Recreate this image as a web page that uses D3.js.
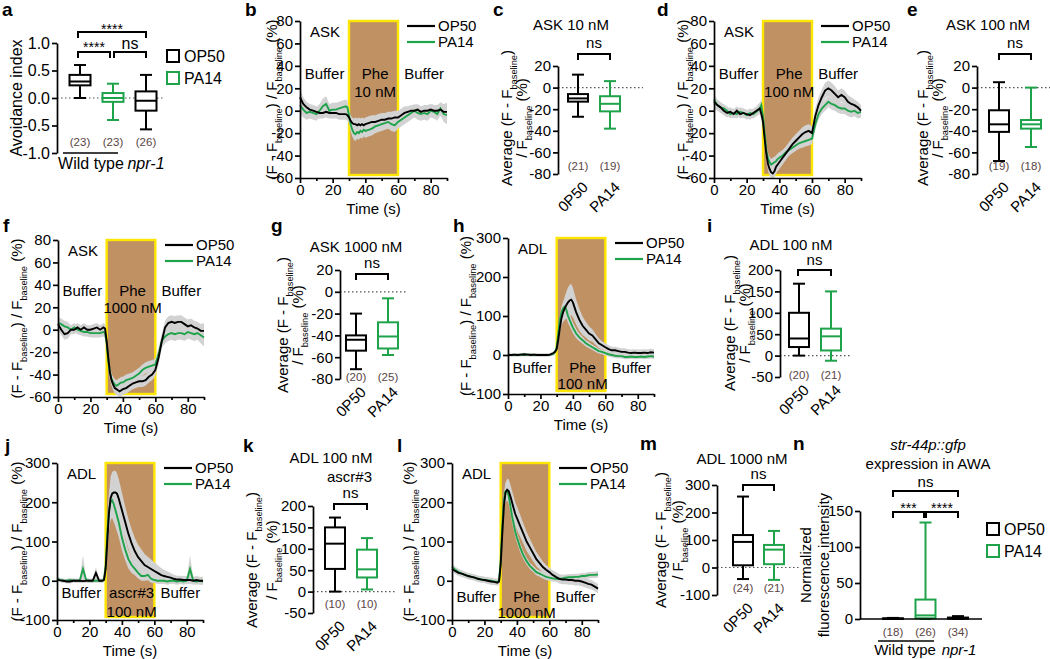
<!DOCTYPE html>
<html><head><meta charset="utf-8">
<script src="https://cdn.jsdelivr.net/npm/d3@7"></script>
<style>
body{margin:0;background:#fff}
svg{font-family:Arial,"Liberation Sans",sans-serif}
</style></head><body>
<svg id="fig" width="1050" height="659"></svg>
<script>
// ---------------- DATA ----------------
const T = [0,2,4,6,8,10,12,14,16,18,20,22,24,26,28,
           29,30,31,32,33,34,35,36,37,38,39,40,
           42,44,46,48,50,52,54,56,58,60,62,64,66,68,70,72,74,76,78,80,82,84,86,88,90];

// b: ASK 10 nM
const bOP50 = [12,6,3,1,0,-1,-2,-2,-1,-2,-2,-2,-3,-3,-3,
  -4,-6,-9,-11,-12,-12,-13,-12,-13,-12,-13,-12,
  -11,-10,-10,-9,-8,-8,-7,-7,-6,-6,-4,-2,-1,0,0,1,-1,0,0,1,0,0,1,-1,-1];
const bPA14 = [5,1,-2,-1,-2,-3,0,4,6,0,1,1,2,3,4,
  3,-4,-12,-17,-20,-21,-19,-20,-18,-19,-17,-18,
  -17,-16,-14,-13,-12,-11,-10,-12,-13,-10,-8,-6,-4,-2,0,-2,-3,-2,-3,0,-1,-3,2,-3,-4];
const bOP50sem = [7,6,5,5,5,5,5,5,5,5,5,5,5,5,5,
  5,5,5,5,5,6,6,6,6,6,6,6,
  6,6,6,6,6,6,6,6,6,6,6,6,5,5,5,5,5,5,5,5,5,5,6,7,8];
const bPA14sem = [8,7,6,6,6,6,6,7,7,6,6,6,6,6,6,
  6,6,6,6,6,6,6,6,6,6,6,6,
  6,6,6,6,6,6,6,6,6,6,6,6,6,6,6,6,6,6,6,6,6,6,6,7,8];

// d: ASK 100 nM
const dOP50 = [8,5,3,0,-2,-1,-3,0,-3,-2,-3,-4,-2,0,2,
  -3,-10,-25,-38,-47,-52,-55,-56,-54,-50,-48,-46,
  -42,-38,-34,-30,-27,-24,-21,-19,-18,-20,-5,5,12,18,20,18,15,12,14,12,8,6,5,3,0];
const dPA14 = [10,5,3,2,0,-3,-2,-3,-1,-2,-4,-2,-3,-1,2,
  5,-5,-20,-35,-42,-46,-48,-47,-46,-45,-43,-42,
  -40,-37,-35,-33,-31,-29,-28,-27,-26,-25,-12,-3,2,5,8,6,5,3,2,2,0,-1,0,-2,-1];
const dOP50sem = [6,5,5,4,4,4,4,4,4,4,4,4,4,4,5,
  5,5,6,6,6,6,6,6,6,6,6,6,
  6,6,6,6,6,6,6,6,6,6,7,7,7,7,7,7,7,6,6,6,6,6,5,5,5];
const dPA14sem = [5,4,4,4,4,4,4,4,4,4,4,4,4,4,5,
  5,5,5,5,5,5,5,5,5,5,5,5,
  5,5,5,5,5,5,5,5,5,5,5,5,5,5,5,5,5,5,5,5,5,5,5,5,5];

// f: ASK 1000 nM
const fOP50 = [5,0,-4,-3,0,0,2,0,2,0,0,1,2,0,2,
  1,-10,-25,-38,-45,-49,-52,-53,-54,-55,-54,-53,
  -52,-50,-48,-47,-46,-46,-45,-42,-40,-36,-25,-10,2,6,7,6,7,7,5,3,4,2,1,-1,-1];
const fPA14 = [6,5,3,2,0,2,0,-1,-2,-2,-3,-3,-3,-3,-2,
  -3,-12,-28,-38,-44,-47,-49,-50,-49,-48,-47,-47,
  -45,-44,-43,-41,-39,-36,-34,-33,-32,-31,-22,-10,-6,-4,-3,-4,-3,-3,-4,-2,-3,-4,-3,-5,-7];
const fOP50sem = [5,5,5,5,4,4,4,4,4,4,4,4,4,4,4,
  4,5,5,5,5,5,5,5,5,5,5,5,
  5,5,5,5,5,5,5,5,5,5,6,6,6,6,6,6,6,6,6,6,6,6,6,6,7];
const fPA14sem = [5,5,5,5,4,4,4,4,4,4,4,4,4,4,4,
  4,5,5,5,5,5,5,5,5,5,5,5,
  5,5,5,5,5,5,5,5,5,5,6,6,6,6,6,6,6,6,6,6,6,6,6,7,8];

// h: ADL 100 nM
const hOP50 = [0,0,1,0,1,2,1,0,1,0,0,0,0,1,5,
  8,15,40,70,95,110,120,128,135,140,142,135,
  110,90,75,65,55,50,40,30,25,20,15,12,12,10,8,8,6,5,6,5,5,6,5,7,6];
const hPA14 = [0,0,0,0,1,0,1,1,0,0,0,0,0,1,3,
  8,20,55,90,110,120,124,115,100,90,80,70,
  55,45,38,30,25,20,15,10,8,5,2,0,-2,-3,-3,-5,-5,-4,-5,-5,-4,-5,-4,-3,-4];
const hOP50sem = [4,4,4,4,4,4,4,4,4,4,4,4,4,4,4,
  4,5,8,12,18,25,30,35,38,40,40,38,
  32,28,24,20,18,16,14,12,10,10,10,9,9,9,9,9,9,9,9,9,9,9,9,9,9];
const hPA14sem = [4,4,4,4,4,4,4,4,4,4,4,4,4,4,4,
  4,5,8,12,15,18,20,20,18,16,15,14,
  12,10,9,8,8,7,7,6,6,6,6,6,6,6,6,6,6,6,6,6,6,6,6,6,6];

// j: ADL ascr#3 100 nM
const jOP50 = [3,1,0,-2,-2,0,0,0,-1,0,0,0,20,0,0,
  2,30,100,170,210,222,225,225,222,210,195,180,
  150,120,95,75,60,50,40,35,30,25,20,15,12,10,8,5,3,3,2,2,2,0,2,0,0];
const jPA14 = [5,2,0,0,2,1,0,0,30,2,0,0,0,0,0,
  5,40,120,180,200,205,195,180,165,150,130,110,
  80,55,40,30,20,12,12,15,5,2,0,0,0,-2,0,0,-2,0,-2,0,30,0,-2,0,-2];
const jOP50sem = [5,5,5,5,5,5,5,5,5,5,5,5,15,5,5,
  5,10,30,45,55,55,55,55,52,50,48,45,
  40,38,36,34,32,30,28,26,24,22,20,18,16,14,12,10,10,10,10,10,10,10,10,10,10];
const jPA14sem = [6,5,5,5,5,5,5,5,35,5,5,5,5,5,5,
  5,10,30,40,45,45,45,42,40,38,35,32,
  28,24,20,16,14,12,12,14,10,8,8,8,8,8,8,8,8,8,8,8,35,8,8,8,8];

// l: ADL 1000 nM
const lOP50 = [30,25,20,18,15,12,10,8,5,3,2,0,-2,-3,-5,
  -2,40,120,190,225,232,228,215,200,185,170,160,
  140,120,100,85,70,55,45,35,28,22,15,10,5,3,3,2,2,0,0,-2,-5,-8,-10,-15,-20];
const lPA14 = [35,28,22,18,15,12,10,8,5,4,2,1,0,-2,-3,
  0,50,140,205,228,230,215,190,165,145,125,110,
  85,65,50,38,30,22,18,14,10,8,6,5,5,6,8,9,9,10,10,12,12,14,15,15,16];
const lOP50sem = [8,8,8,8,8,8,8,8,8,8,8,8,8,8,8,
  8,10,15,20,25,28,30,30,30,30,30,30,
  28,26,24,22,20,18,16,14,12,12,12,12,12,12,12,12,12,12,12,12,12,12,12,12,12];
const lPA14sem = [8,8,8,8,8,8,8,8,8,8,8,8,8,8,8,
  8,10,15,20,22,22,20,18,16,15,14,13,
  12,10,9,8,8,8,8,8,8,8,8,8,8,8,8,8,8,8,8,8,8,8,8,8,8];

// box plots: [min, q1, median, q3, max]
const aCats = ["WT OP50","WT PA14","npr-1 OP50"];
const aBoxes = [[0.0,0.23,0.30,0.42,0.60],[-0.40,-0.07,0.0,0.09,0.26],[-0.57,-0.23,-0.05,0.12,0.42]];
const aN = ["(23)","(23)","(26)"];
const foodCats = ["0P50","PA14"];
const cBoxes = [[-27,-13,-10,-6,12],[-38,-22,-15,-8,6]];   const cN = ["(21)","(19)"];
const eBoxes = [[-68,-41,-34,-21,5],[-55,-38,-34,-30,0]];  const eN = ["(19)","(18)"];
const gBoxes = [[-71,-54,-44,-40,-20],[-58,-52,-41,-28,-6]]; const gN = ["(20)","(25)"];
const iBoxes = [[0,20,40,100,168],[-12,12,45,63,150]];     const iN = ["(20)","(21)"];
const kBoxes = [[0,53,112,150,173],[5,33,52,98,125]];      const kN = ["(10)","(10)"];
const mBoxes = [[-42,8,93,118,258],[-45,12,65,82,133]];    const mN = ["(24)","(21)"];
const nCats = ["WT OP50","WT PA14","npr-1 OP50"];
const nBoxes = [[0,0.2,0.5,0.9,1.5],[0,1,5,27,134],[0,0.5,1,2,4]]; const nN = ["(18)","(26)","(34)"];

const aTicks = [-1,-0.5,0,0.5,1];
const ask80Ticks = [-60,-40,-20,0,20,40,60,80];
const adlTicks = [-100,0,100,200,300];
const boxAskTicks = [-80,-60,-40,-20,0,20];
const box200Ticks = [-50,0,50,100,150,200];
const box300Ticks = [-100,0,100,200,300];
const nTicks = [0,50,100,150];
const timeTicks = [0,20,40,60,80];
const timeMinor = [10,30,50,70,90];

// ---------------- DRAWING ----------------
const svg = d3.select("#fig");
const GREEN = "#1fa34a", TAN = "#bf9163", YEL = "#ffe600", BAND = "#d2d2d2", NCOL = "#5a4444";
svg.append("rect").attr("width",1050).attr("height",659).attr("fill","#fff");

function txt(g,x,y,s,o={}){
  const t=g.append("text").attr("x",x).attr("y",y).text(s)
    .attr("font-size",o.size||15).attr("text-anchor",o.anchor||"start").attr("fill",o.fill||"#000");
  if(o.italic) t.attr("font-style","italic");
  if(o.bold) t.attr("font-weight","bold");
  if(o.rot) t.attr("transform",`rotate(${o.rot},${x},${y})`);
  return t;
}
function letter(s,x,y){ txt(svg,x,y,s,{size:19,bold:true}); }
function richV(g,x,y,parts,size){
  const t=g.append("text").attr("x",x).attr("y",y).attr("font-size",size)
    .attr("text-anchor","middle").attr("transform",`rotate(-90,${x},${y})`);
  let prev=false;
  parts.forEach(([s,sub])=>{
    const ts=t.append("tspan").text(s);
    if(sub){ ts.attr("font-size",size*0.62); if(!prev) ts.attr("dy",size*0.3); }
    else if(prev) ts.attr("dy",-size*0.3);
    prev=sub;
  });
}
function styleAxis(a,size){
  a.select(".domain").attr("stroke","#000").attr("stroke-width",1.7);
  a.selectAll(".tick line").attr("stroke","#000").attr("stroke-width",1.7);
  a.selectAll("text").attr("font-size",size||15).attr("fill","#000").attr("font-family",'Arial,"Liberation Sans",sans-serif');
}
function bracket(g,x1,x2,y,leg,label,ly,size){
  g.append("path").attr("d",`M${x1},${y+leg}V${y}H${x2}V${y+leg}`).attr("fill","none").attr("stroke","#000").attr("stroke-width",2);
  txt(g,(x1+x2)/2,ly,label,{anchor:"middle",size:size||15});
}
function drawBox(g,cx,b,color,y,w){
  const cap=6;
  g.append("line").attr("x1",cx).attr("x2",cx).attr("y1",y(b[0])).attr("y2",y(b[4])).attr("stroke",color).attr("stroke-width",2);
  [b[0],b[4]].forEach(v=>g.append("line").attr("x1",cx-cap).attr("x2",cx+cap).attr("y1",y(v)).attr("y2",y(v)).attr("stroke",color).attr("stroke-width",2));
  g.append("rect").attr("x",cx-w/2).attr("y",y(b[3])).attr("width",w).attr("height",Math.max(0.5,y(b[1])-y(b[3])))
    .attr("fill","#fff").attr("stroke",color).attr("stroke-width",2);
  g.append("line").attr("x1",cx-w/2).attr("x2",cx+w/2).attr("y1",y(b[2])).attr("y2",y(b[2])).attr("stroke",color).attr("stroke-width",2);
}
const intFmt = d=>String(d);

function tracePanel(o){
  const g=svg.append("g");
  const x=d3.scaleLinear().domain([0,90]).range([o.x0,o.x1]);
  const y=d3.scaleLinear().domain([o.ymin,o.ymax]).range([o.yb,o.yt]);
  g.append("rect").attr("x",x(30)).attr("y",y(o.ymax)).attr("width",x(60)-x(30)).attr("height",y(o.ymin)-y(o.ymax)-3)
    .attr("fill",TAN).attr("stroke",YEL).attr("stroke-width",2.4);
  o.series.forEach(s=>{
    const area=d3.area().x((d,i)=>x(T[i])).y0((d,i)=>y(Math.max(o.ymin,d-s.sem[i]))).y1((d,i)=>y(Math.min(o.ymax,d+s.sem[i])));
    g.append("path").datum(s.v).attr("d",area).attr("fill",BAND);
  });
  o.series.forEach(s=>{
    const line=d3.line().x((d,i)=>x(T[i])).y(d=>y(d));
    g.append("path").datum(s.v).attr("d",line).attr("fill","none").attr("stroke",s.c).attr("stroke-width",1.9);
  });
  const xa=g.append("g").attr("transform",`translate(0,${o.yb})`)
    .call(d3.axisBottom(x).tickValues(timeTicks).tickFormat(intFmt).tickSize(5).tickSizeOuter(0).tickPadding(1));
  styleAxis(xa,15);
  const xm=g.append("g").attr("transform",`translate(0,${o.yb})`)
    .call(d3.axisBottom(x).tickValues(timeMinor).tickFormat("").tickSize(3).tickSizeOuter(0));
  styleAxis(xm); xm.select(".domain").remove();
  const ya=g.append("g").attr("transform",`translate(${o.x0},0)`)
    .call(d3.axisLeft(y).tickValues(o.yticks).tickFormat(intFmt).tickSize(5).tickSizeOuter(0).tickPadding(2));
  styleAxis(ya,15);
  txt(g,(o.x0+o.x1)/2,o.yb+36,"Time (s)",{anchor:"middle"});
  richV(g,o.ylx,(o.yt+o.yb)/2,[["(F - F",0],["baseline",1],[") / F",0],["baseline",1],[" (%)",0]],15);
  txt(g,o.x0+10,o.yt+16,o.tag);
  txt(g,x(15),o.ty1,"Buffer",{anchor:"middle"});
  txt(g,x(76),o.ty1,"Buffer",{anchor:"middle"});
  txt(g,x(46),o.ty1,o.stim[0],{anchor:"middle"});
  txt(g,x(46),o.ty2,o.stim[1],{anchor:"middle"});
  const lx=o.x0+107;
  [["OP50","#000",o.yt+5],["PA14",GREEN,o.yt+21]].forEach(([n,c,ly])=>{
    g.append("line").attr("x1",lx).attr("x2",lx+28).attr("y1",ly).attr("y2",ly).attr("stroke",c).attr("stroke-width",2.2);
    txt(g,lx+31,ly+5,n);
  });
}

function boxPanel(o){
  const g=svg.append("g");
  const y=d3.scaleLinear().domain([o.ymin,o.ymax]).range([o.yb,o.yt]);
  const x=d3.scalePoint().domain(o.cats).range(o.xr);
  if(o.zeroEnd) g.append("line").attr("x1",o.ax).attr("x2",o.zeroEnd).attr("y1",y(0)).attr("y2",y(0))
     .attr("stroke","#555").attr("stroke-width",1.2).attr("stroke-dasharray","1.5,2.5");
  const ya=g.append("g").attr("transform",`translate(${o.ax},0)`)
    .call(d3.axisLeft(y).tickValues(o.ticks).tickFormat(o.fmt||intFmt).tickSize(5).tickSizeOuter(0).tickPadding(2));
  styleAxis(ya,o.tsize||15);
  o.boxes.forEach((b,i)=>drawBox(g,x(o.cats[i]),b,o.colors[i],y,o.bw||20));
  o.n.forEach((s,i)=>txt(g,x(o.cats[i]),o.ny,s,{anchor:"middle",size:11.5,fill:NCOL}));
  return {g,x,y};
}

// ---------- a ----------
letter("a",2,16);
{
  const r=boxPanel({ymin:-1,ymax:1,yb:153,yt:43,ax:57,cats:aCats,xr:[80,146],ticks:aTicks,fmt:d=>d.toFixed(1),tsize:16,
    boxes:aBoxes,colors:["#000",GREEN,"#000"],n:aN,ny:146,zeroEnd:165,bw:21});
  const g=r.g;
  g.append("line").attr("x1",63).attr("x2",118).attr("y1",153).attr("y2",153).attr("stroke","#000").attr("stroke-width",1.7);
  txt(g,91,169,"Wild type",{anchor:"middle",size:16});
  txt(g,146,169,"npr-1",{anchor:"middle",size:16,italic:true});
  richV(g,22,98,[["Avoidance index",0]],16);
  bracket(g,78,110,52,6,"****",52,14);
  bracket(g,114,146,52,6,"ns",49,16);
  bracket(g,78,146,32,6,"****",34,14);
  [["OP50","#000",50],["PA14",GREEN,72]].forEach(([n,c,ly])=>{
    g.append("rect").attr("x",167).attr("y",ly).attr("width",12).attr("height",12).attr("fill","none").attr("stroke",c).attr("stroke-width",2);
    txt(g,184,ly+12,n,{size:16});
  });
}

// ---------- b ----------
letter("b",245,16);
tracePanel({x0:300,x1:447,yt:21,yb:178,ymin:-60,ymax:80,yticks:ask80Ticks,ylx:277,tag:"ASK",stim:["Phe","10 nM"],ty1:79,ty2:97,
  series:[{v:bPA14,sem:bPA14sem,c:GREEN},{v:bOP50,sem:bOP50sem,c:"#000"}]});

function avgLabel(g,x1,x2,yc){
  richV(g,x1,yc,[["Average (F - F",0],["baseline",1],[")",0]],15);
  richV(g,x2,yc,[["/ F",0],["baseline",1],[" (%)",0]],15);
}
function foodLabels(g,x,yb){
  foodCats.forEach(c=>txt(g,x(c)+11,yb+14,c,{anchor:"end",rot:-45}));
}

// ---------- c ----------
letter("c",493,16);
{
  const r=boxPanel({ymin:-80,ymax:20,yb:174,yt:66,ax:558,cats:foodCats,xr:[578,610],ticks:boxAskTicks,
    boxes:cBoxes,colors:["#000",GREEN],n:cN,ny:170,zeroEnd:643});
  txt(r.g,571,30,"ASK 10 nM",{anchor:"middle"});
  bracket(r.g,578,610,54,6,"ns",48);
  avgLabel(r.g,512,527,118); foodLabels(r.g,r.x,174);
}

// ---------- d ----------
letter("d",657,16);
tracePanel({x0:714,x1:861,yt:21,yb:178,ymin:-60,ymax:80,yticks:ask80Ticks,ylx:688,tag:"ASK",stim:["Phe","100 nM"],ty1:79,ty2:97,
  series:[{v:dPA14,sem:dPA14sem,c:GREEN},{v:dOP50,sem:dOP50sem,c:"#000"}]});

// ---------- e ----------
letter("e",907,16);
{
  const r=boxPanel({ymin:-80,ymax:20,yb:174,yt:66,ax:977,cats:foodCats,xr:[999,1031],ticks:boxAskTicks,
    boxes:eBoxes,colors:["#000",GREEN],n:eN,ny:170,zeroEnd:1050});
  txt(r.g,988,30,"ASK 100 nM",{anchor:"middle"});
  bracket(r.g,999,1031,54,6,"ns",48);
  avgLabel(r.g,928,943,118); foodLabels(r.g,r.x,174);
}

// ---------- f ----------
letter("f",3,232);
tracePanel({x0:58,x1:204,yt:240,yb:397,ymin:-60,ymax:80,yticks:ask80Ticks,ylx:22,tag:"ASK",stim:["Phe","1000 nM"],ty1:296,ty2:313,
  series:[{v:fPA14,sem:fPA14sem,c:GREEN},{v:fOP50,sem:fOP50sem,c:"#000"}]});

// ---------- g ----------
letter("g",271,232);
{
  const r=boxPanel({ymin:-80,ymax:20,yb:379,yt:270,ax:340,cats:foodCats,xr:[356,388],ticks:boxAskTicks,
    boxes:gBoxes,colors:["#000",GREEN],n:gN,ny:381,zeroEnd:408});
  txt(r.g,356,252,"ASK 1000 nM",{anchor:"middle"});
  bracket(r.g,356,388,274,6,"ns",268);
  avgLabel(r.g,288,303,325); foodLabels(r.g,r.x,379);
}

// ---------- h ----------
letter("h",453,232);
tracePanel({x0:508,x1:654,yt:238,yb:394,ymin:-100,ymax:300,yticks:adlTicks,ylx:471,tag:"ADL",stim:["Phe","100 nM"],ty1:373,ty2:389,
  series:[{v:hPA14,sem:hPA14sem,c:GREEN},{v:hOP50,sem:hOP50sem,c:"#000"}]});

// ---------- i ----------
letter("i",707,232);
{
  const r=boxPanel({ymin:-50,ymax:200,yb:377,yt:270,ax:780,cats:foodCats,xr:[799,831],ticks:box200Ticks,
    boxes:iBoxes,colors:["#000",GREEN],n:iN,ny:379,zeroEnd:852});
  txt(r.g,791,250,"ADL 100 nM",{anchor:"middle"});
  bracket(r.g,798,831,270,6,"ns",265);
  avgLabel(r.g,735,750,323); foodLabels(r.g,r.x,377);
}

// ---------- j ----------
letter("j",5,452);
tracePanel({x0:57,x1:203,yt:463,yb:620,ymin:-100,ymax:300,yticks:adlTicks,ylx:22,tag:"ADL",stim:["ascr#3","100 nM"],ty1:598,ty2:617,
  series:[{v:jPA14,sem:jPA14sem,c:GREEN},{v:jOP50,sem:jOP50sem,c:"#000"}]});

// ---------- k ----------
letter("k",243,452);
{
  const r=boxPanel({ymin:-50,ymax:200,yb:613,yt:506,ax:313,cats:foodCats,xr:[335,367],ticks:box200Ticks,
    boxes:kBoxes,colors:["#000",GREEN],n:kN,ny:608,zeroEnd:395});
  txt(r.g,331,463,"ADL 100 nM",{anchor:"middle"});
  txt(r.g,372,482,"ascr#3",{anchor:"end"});
  bracket(r.g,334,367,504,6,"ns",498);
  avgLabel(r.g,257,277,560); foodLabels(r.g,r.x,613);
}

// ---------- l ----------
letter("l",397,452);
tracePanel({x0:452,x1:598,yt:463,yb:620,ymin:-100,ymax:300,yticks:adlTicks,ylx:414,tag:"ADL",stim:["Phe","1000 nM"],ty1:602,ty2:618,
  series:[{v:lPA14,sem:lPA14sem,c:GREEN},{v:lOP50,sem:lOP50sem,c:"#000"}]});

// ---------- m ----------
letter("m",640,450);
{
  const r=boxPanel({ymin:-100,ymax:300,yb:595,yt:485,ax:717,cats:foodCats,xr:[743,774],ticks:box300Ticks,
    boxes:mBoxes,colors:["#000",GREEN],n:mN,ny:592,zeroEnd:800});
  txt(r.g,742,464,"ADL 1000 nM",{anchor:"middle"});
  bracket(r.g,743,774,485,6,"ns",479);
  avgLabel(r.g,666,683,540); foodLabels(r.g,r.x,595);
}

// ---------- n ----------
letter("n",793,450);
{
  const r=boxPanel({ymin:0,ymax:150,yb:619,yt:511,ax:860,cats:nCats,xr:[893,958],ticks:nTicks,
    boxes:nBoxes,colors:["#000",GREEN,"#000"],n:nN,ny:636,bw:20});
  const g=r.g;
  g.append("line").attr("x1",860).attr("x2",982).attr("y1",619).attr("y2",619).attr("stroke","#000").attr("stroke-width",1.7);
  txt(g,928,450,"str-44p::gfp",{anchor:"middle",italic:true});
  txt(g,928,469,"expression in AWA",{anchor:"middle"});
  bracket(g,893,958,491,6,"ns",487);
  bracket(g,893,924,512,6,"***",513,14);
  bracket(g,926,958,512,6,"****",513,14);
  g.append("line").attr("x1",878).attr("x2",934).attr("y1",641).attr("y2",641).attr("stroke","#000").attr("stroke-width",1.5);
  txt(g,905,655,"Wild type",{anchor:"middle"});
  txt(g,959,655,"npr-1",{anchor:"middle",italic:true});
  richV(g,811,565,[["Normalized",0]],15);
  richV(g,829,565,[["fluorescence intensity",0]],15);
  [["OP50","#000",523],["PA14",GREEN,545]].forEach(([n,c,ly])=>{
    g.append("rect").attr("x",987).attr("y",ly).attr("width",12).attr("height",12).attr("fill","none").attr("stroke",c).attr("stroke-width",2);
    txt(g,1004,ly+12,n,{size:16});
  });
}
</script>
</body></html>
